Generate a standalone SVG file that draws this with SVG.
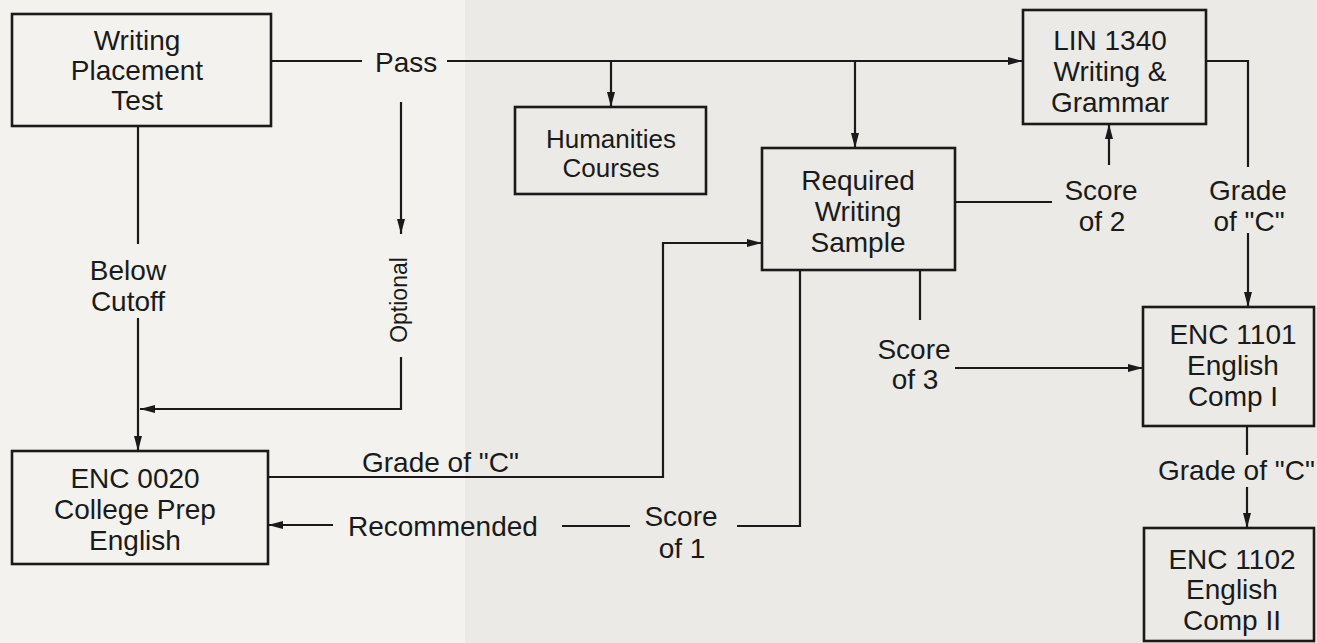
<svg xmlns="http://www.w3.org/2000/svg" width="1317" height="643" viewBox="0 0 1317 643">
<style>
.bg{fill:#f3f2ef}
.box{fill:none;stroke:#1a1a1a;stroke-width:2.6}
.ln{fill:none;stroke:#1a1a1a;stroke-width:2.2}
text{font-family:"Liberation Sans",Arial,sans-serif;font-size:28px;fill:#1a1a1a}
.c{text-anchor:middle}
</style>
<defs>
<marker id="ah" viewBox="0 0 15 8" refX="15" refY="4" markerWidth="15" markerHeight="8" markerUnits="userSpaceOnUse" orient="auto">
<path d="M0,0 L15,4 L0,8 z" fill="#1a1a1a"/>
</marker>
</defs>
<rect class="bg" x="0" y="0" width="1317" height="643"/>
<rect x="465" y="0" width="852" height="643" fill="#ebeae6"/>

<g id="connectors">
<path class="ln" d="M271,61 H362"/>
<path class="ln" d="M447,61 H1023" marker-end="url(#ah)"/>
<path class="ln" d="M611,61 V107" marker-end="url(#ah)"/>
<path class="ln" d="M855,61 V148" marker-end="url(#ah)"/>
<path class="ln" d="M401,102 V234" marker-end="url(#ah)"/>
<path class="ln" d="M401,357 V409 H140" marker-end="url(#ah)"/>
<path class="ln" d="M138,126 V244"/>
<path class="ln" d="M138,318 V451" marker-end="url(#ah)"/>
<path class="ln" d="M268,477 H663 V243 H762" marker-end="url(#ah)"/>
<path class="ln" d="M333,525 H268" marker-end="url(#ah)"/>
<path class="ln" d="M562,526 H630"/>
<path class="ln" d="M737,526 H800 V270"/>
<path class="ln" d="M955,202 H1052"/>
<path class="ln" d="M1109,165 V124" marker-end="url(#ah)"/>
<path class="ln" d="M1206,61 H1248 V167"/>
<path class="ln" d="M1248,233 V307" marker-end="url(#ah)"/>
<path class="ln" d="M920,270 V320"/>
<path class="ln" d="M955,368 H1143" marker-end="url(#ah)"/>
<path class="ln" d="M1247,426 V455"/>
<path class="ln" d="M1247,487 V528" marker-end="url(#ah)"/>
<text x="375" y="72">Pass</text>
<text class="c" x="128" y="280">Below</text>
<text class="c" x="128" y="311">Cutoff</text>
<text class="c" transform="translate(407,300) rotate(-90)" style="font-size:23px">Optional</text>
<text x="362" y="472">Grade of "C"</text>
<text x="348" y="536">Recommended</text>
<text class="c" x="681" y="526">Score</text>
<text class="c" x="682" y="558">of 1</text>
<text class="c" x="1101" y="200">Score</text>
<text class="c" x="1102" y="231">of 2</text>
<text class="c" x="1248" y="200">Grade</text>
<text class="c" x="1249" y="231">of "C"</text>
<text class="c" x="914" y="359">Score</text>
<text class="c" x="915" y="389">of 3</text>
<text x="1158" y="480">Grade of "C"</text>
</g>

<g id="writing-placement-test">
<rect class="box" x="12" y="14" width="259" height="112"/>
<text class="c" x="137" y="50">Writing</text>
<text class="c" x="137" y="80">Placement</text>
<text class="c" x="137" y="110">Test</text>
</g>

<g id="humanities-courses">
<rect class="box" x="515" y="107" width="191" height="87"/>
<text class="c" x="611" y="148" style="font-size:26px">Humanities</text>
<text class="c" x="611" y="177" style="font-size:26px">Courses</text>
</g>

<g id="required-writing-sample">
<rect class="box" x="762" y="148" width="193" height="122"/>
<text class="c" x="858" y="190">Required</text>
<text class="c" x="858" y="221">Writing</text>
<text class="c" x="858" y="252">Sample</text>
</g>

<g id="lin-1340">
<rect class="box" x="1023" y="10" width="183" height="114"/>
<text class="c" x="1110" y="50">LIN 1340</text>
<text class="c" x="1110" y="81">Writing &amp;</text>
<text class="c" x="1110" y="112">Grammar</text>
</g>

<g id="enc-0020">
<rect class="box" x="12" y="451" width="256" height="113"/>
<text class="c" x="135" y="488">ENC 0020</text>
<text class="c" x="135" y="519">College Prep</text>
<text class="c" x="135" y="550">English</text>
</g>

<g id="enc-1101">
<rect class="box" x="1143" y="307" width="171" height="119"/>
<text class="c" x="1233" y="344">ENC 1101</text>
<text class="c" x="1233" y="375">English</text>
<text class="c" x="1233" y="406">Comp I</text>
</g>

<g id="enc-1102">
<rect class="box" x="1144" y="528" width="170" height="113"/>
<text class="c" x="1232" y="569">ENC 1102</text>
<text class="c" x="1232" y="599">English</text>
<text class="c" x="1232" y="630">Comp II</text>
</g>
</svg>
